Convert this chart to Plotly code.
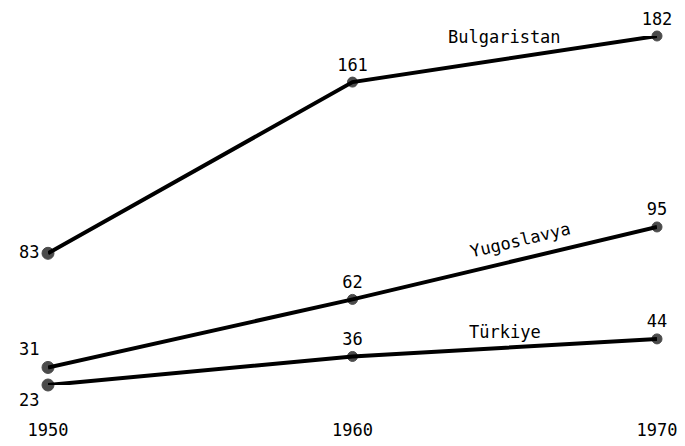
import math
import plotly.graph_objects as go

years = [1950, 1960, 1970]
bulgaristan = [83, 161, 182]
yugoslavya = [31, 62, 95]
turkiye = [23, 36, 44]
series_names = ["Bulgaristan", "Yugoslavya", "Türkiye"]
tick_labels = ["1950", "1960", "1970"]

# page body has an 8px margin, so the figure is drawn 8px right/down
W, H = 677, 438
ML, MR, MT, MB = 40, 28, 28, 61
PW, PH = W - ML - MR, H - MT - MB
XR = [1950, 1970]
YR = [23, 182]

FONT = "DejaVu Sans Mono"

first_pos = {"Bulgaristan": "middle left", "Yugoslavya": "top left", "Türkiye": "bottom left"}

fig = go.Figure()
for name, vals in zip(series_names, (bulgaristan, yugoslavya, turkiye)):
    fig.add_trace(go.Scatter(
        x=years, y=vals,
        mode="lines+markers+text",
        line=dict(color="black", width=4),
        marker=dict(color="black", size=[12, 10, 10], line=dict(width=1, color="black")),
        text=[str(v) for v in vals],
        textposition=[first_pos[name], "top center", "top center"],
        textfont=dict(family=FONT, size=17, color="black"),
        cliponaxis=False,
        showlegend=False,
    ))

# series name labels along the 1960-1970 segment
for name, vals, frac, shift, rotate in (
    ("Bulgaristan", bulgaristan, 0.5, 22, False),
    ("Yugoslavya", yugoslavya, 0.55, 20, True),
    ("Türkiye", turkiye, 0.5, 16, False),
):
    xa = years[1] + frac * (years[2] - years[1])
    ya = vals[1] + frac * (vals[2] - vals[1])
    dx_px = (years[2] - years[1]) / (XR[1] - XR[0]) * PW
    dy_px = (vals[2] - vals[1]) / (YR[1] - YR[0]) * PH
    ang = -math.degrees(math.atan2(dy_px, dx_px)) if rotate else 0
    fig.add_annotation(
        x=xa, y=ya, text=name, showarrow=False,
        yshift=shift, textangle=ang,
        font=dict(family=FONT, size=17, color="black"),
    )

fig.update_layout(
    width=W, height=H,
    margin=dict(l=ML, r=MR, t=MT, b=MB, autoexpand=False),
    paper_bgcolor="white", plot_bgcolor="white",
    xaxis=dict(
        range=XR, tickvals=years, ticktext=tick_labels,
        showgrid=False, zeroline=False, showline=False,
        ticks="outside", ticklen=30, tickcolor="rgba(0,0,0,0)",
        tickfont=dict(family=FONT, size=17, color="black"),
        automargin=False,
    ),
    yaxis=dict(
        range=YR, visible=False, showgrid=False, zeroline=False,
        automargin=False,
    ),
)

fig.write_html("out.html")
